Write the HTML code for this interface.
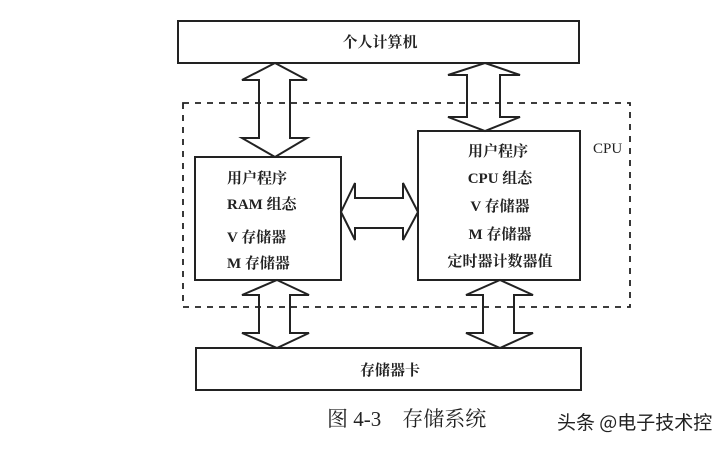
<!DOCTYPE html>
<html><head><meta charset="utf-8"><style>
html,body{margin:0;padding:0;background:#fff;}
svg text{font-family:"Liberation Serif","Noto Serif CJK SC",serif;fill:#222;}
</style></head><body>
<svg width="716" height="446" viewBox="0 0 716 446" xmlns="http://www.w3.org/2000/svg">
<g fill="#fff" stroke="#222" stroke-width="2">
<rect x="178" y="21" width="401" height="42"/>
<rect x="195" y="157" width="146" height="123"/>
<rect x="418" y="131" width="162" height="149"/>
<rect x="196" y="348" width="385" height="42"/>
<polygon points="275,63 307,80 290,80 290,138 307,138 275,157 242,138 259,138 259,80 242,80"/>
<polygon points="485,63 520,75 500,75 500,117 520,117 485,131 448,117 467,117 467,75 448,75"/>
<polygon points="341,212 355,183 355,198 403,198 403,183 418,212 403,240 403,228 355,228 355,240"/>
<polygon points="277,280 309,295 290,295 290,333 309,333 277,348 242,333 259,333 259,295 242,295"/>
<polygon points="500,280 533,295 514,295 514,333 533,333 500,348 466,333 483,333 483,295 466,295"/>
<rect x="183" y="103" width="447" height="204" fill="none" stroke-dasharray="6,6" stroke-width="1.8"/>
</g>
<g font-size="15" font-weight="bold">
<text x="380" y="47" text-anchor="middle">个人计算机</text>
<text x="227" y="183">用户程序</text>
<text x="227" y="209">RAM 组态</text>
<text x="227" y="242">V 存储器</text>
<text x="227" y="268">M 存储器</text>
<text x="498" y="156" text-anchor="middle">用户程序</text>
<text x="500" y="183" text-anchor="middle">CPU 组态</text>
<text x="500" y="211" text-anchor="middle">V 存储器</text>
<text x="500" y="239" text-anchor="middle">M 存储器</text>
<text x="500" y="266" text-anchor="middle">定时器计数器值</text>
<text x="390" y="375" text-anchor="middle">存储器卡</text>
</g>
<text x="593" y="153" font-size="15">CPU</text>
<text x="327" y="426" font-size="21">图 4-3　存储系统</text>
<text x="557" y="429" font-size="19" style="font-family:'Noto Sans CJK SC',sans-serif" fill="#333">头条 @电子技术控</text>
</svg>
</body></html>
